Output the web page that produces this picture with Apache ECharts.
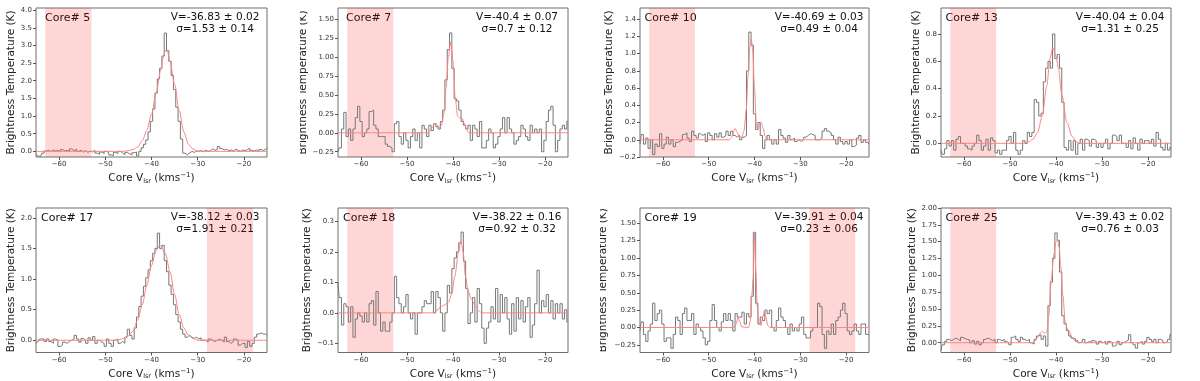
<!DOCTYPE html>
<html>
<head>
<meta charset="utf-8">
<script src="https://cdn.jsdelivr.net/npm/echarts@6/dist/echarts.min.js"></script>
<style>
  html, body { margin: 0; padding: 0; background: #fff; }
  #main { width: 1200px; height: 381px; }
</style>
</head>
<body>
<div id="main"></div>
<script>
/* channel grid of the spectra (km/s) */
var vStart = -65, vStep = 0.5;

/* brightness temperature per channel, one row = 5 km/s */
var t5 = [
  -0.08, -0.13, -0.15, -0.05, 0.01, 0.03, -0.01, 0.04, 0.01, 0.03,
  -0.02, 0.05, 0.01, 0.03, 0.0, 0.07, 0.02, 0.06, 0.0, 0.03,
  -0.02, 0.02, -0.03, 0.01, -0.02, 0.03, -0.05, -0.08, -0.02, -0.06,
  0.0, -0.04, -0.1, -0.12, -0.03, -0.06, 0.0, -0.05, -0.09, -0.03,
  -0.07, -0.1, -0.04, -0.02, -0.13, 0.0, 0.1, 0.2, 0.32, 0.55,
  0.85, 1.2, 1.65, 2.05, 2.35, 2.7, 3.35, 2.85, 2.55, 2.15,
  1.75, 1.25, 0.85, 0.35, -0.05, -0.1, -0.05, 0.0, -0.03, 0.01,
  0.0, 0.02, -0.01, 0.03, 0.0, 0.02, 0.07, 0.03, 0.05, 0.14,
  0.08, 0.04, 0.06, 0.02, 0.04, 0.01, 0.06, 0.03, 0.0, 0.04,
  0.02, 0.05, 0.09, 0.03, 0.01, 0.04, -0.01, 0.05, 0.03, 0.06,
  0.1
];
var t7 = [
  -0.25, -0.2, 0.05, 0.27, -0.05, 0.05, -0.1, 0.05, 0.2, 0.35,
  0.15, -0.05, 0.0, 0.05, 0.28, 0.3, 0.1, 0.05, -0.05, -0.05,
  -0.05, -0.15, -0.18, -0.2, -0.25, 0.12, 0.15, -0.05, -0.15, 0.0,
  -0.1, -0.2, -0.05, 0.05, -0.1, 0.0, -0.2, 0.1, 0.05, -0.05,
  0.1, 0.03, 0.12, 0.08, 0.05, 0.15, 0.3, 0.7, 1.1, 1.32,
  0.85, 0.45, 0.42, 0.3, 0.15, 0.1, 0.05, 0.1, -0.1, 0.1,
  0.05, -0.05, 0.15, -0.2, -0.2, -0.1, 0.05, 0.0, -0.2, -0.15,
  -0.05, 0.05, 0.2, 0.0, 0.2, 0.05, 0.0, -0.15, -0.1, -0.05,
  0.1, 0.05, -0.05, -0.1, 0.1, 0.0, 0.05, 0.0, 0.05, -0.25,
  -0.1, 0.15, 0.3, 0.35, 0.1, -0.25, -0.1, 0.05, 0.1, 0.05,
  0.15
];
var t10 = [
  -0.05, 0.06, -0.05, 0.02, -0.1, 0.0, -0.17, -0.05, -0.08, 0.07,
  -0.1, -0.05, 0.03, -0.05, 0.0, -0.08, -0.03, -0.02, 0.0, 0.06,
  0.08, 0.02, -0.02, 0.1, 0.05, 0.02, 0.07, 0.05, 0.07, -0.02,
  0.08, 0.05, 0.0, 0.07, 0.03, 0.08, 0.03, 0.05, 0.1, 0.05,
  0.1, 0.05, 0.03, 0.05, 0.0, 0.03, 0.05, 0.8, 1.25, 1.1,
  0.3, 0.12, 0.2, 0.05, -0.1, 0.0, 0.05, 0.0, -0.05, 0.0,
  -0.05, 0.12, 0.05, 0.02, -0.03, 0.05, 0.0, 0.02, -0.02, 0.0,
  -0.02, 0.0, 0.03, 0.05, 0.07, 0.06, 0.05, 0.0, 0.0, 0.02,
  0.1, 0.13, 0.1, 0.08, 0.05, 0.0, -0.05, 0.03, -0.02, -0.05,
  -0.02, -0.05, 0.0, -0.08, -0.06, 0.02, 0.05, -0.03, 0.0, -0.03,
  -0.05
];
var t13 = [
  -0.05, -0.08, -0.04, 0.02, -0.02, 0.02, -0.05, 0.03, 0.05, 0.0,
  0.0, -0.02, -0.04, -0.05, -0.02, 0.0, 0.06, 0.02, -0.05, -0.02,
  0.03, -0.05, 0.04, 0.02, -0.07, -0.05, -0.08, -0.05, -0.05, 0.02,
  0.05, 0.0, 0.08, -0.05, -0.08, -0.05, 0.02, 0.0, 0.08, 0.05,
  0.08, 0.32, 0.3, 0.2, 0.22, 0.45, 0.55, 0.6, 0.55, 0.8,
  0.62, 0.65, 0.55, 0.3, -0.03, -0.05, 0.02, -0.05, 0.02, -0.08,
  0.0, 0.03, -0.05, 0.03, 0.02, -0.02, 0.03, 0.02, -0.03, 0.0,
  -0.03, 0.0, 0.03, -0.04, 0.0, 0.06, 0.05, 0.02, 0.06, 0.0,
  0.0, -0.03, 0.02, -0.04, 0.04, 0.0, -0.05, 0.03, 0.0, 0.02,
  0.02, 0.0, 0.03, -0.02, 0.08, 0.03, -0.03, -0.05, 0.0, -0.05,
  -0.03
];
var t17 = [
  -0.05, -0.02, 0.02, 0.02, -0.02, 0.02, -0.02, -0.05, 0.02, 0.0,
  -0.1, -0.08, -0.03, -0.05, -0.02, 0.0, 0.02, 0.08, 0.02, -0.03,
  0.03, 0.0, -0.05, 0.04, 0.0, 0.06, -0.05, 0.0, -0.03, -0.05,
  -0.1, 0.02, -0.05, -0.1, 0.0, 0.02, -0.05, -0.02, -0.05, 0.05,
  0.18, 0.08, 0.02, 0.2, 0.38, 0.55, 0.72, 0.88, 1.02, 1.15,
  1.3, 1.42, 1.5, 1.75, 1.5, 1.55, 1.3, 1.12, 0.9, 0.75,
  0.58, 0.42, 0.3, 0.18, 0.1, 0.05, 0.08, 0.05, 0.03, 0.05,
  0.02, 0.04, 0.0, 0.0, -0.03, 0.02, 0.0, -0.02, 0.0, 0.02,
  0.0, -0.03, 0.05, -0.02, -0.05, -0.02, 0.02, 0.0, -0.08, -0.05,
  -0.05, -0.12, -0.02, -0.1, -0.05, 0.05, 0.1, 0.12, 0.1, 0.1,
  0.08
];
var t18 = [
  0.1, 0.05, -0.04, 0.03, 0.02, -0.03, 0.02, -0.08, -0.02, 0.0,
  -0.01, -0.03, 0.0, -0.03, 0.03, 0.04, -0.04, 0.07, 0.0, -0.06,
  -0.03, -0.06, -0.06, -0.03, 0.0, 0.12, 0.05, 0.03, 0.0, 0.02,
  0.06, 0.0, -0.02, 0.0, -0.07, 0.0, 0.0, 0.02, 0.04, 0.03,
  0.03, 0.07, 0.0, 0.07, 0.05, 0.0, -0.06, 0.0, 0.09, 0.065,
  0.145, 0.18, 0.2, 0.23, 0.265, 0.17, 0.08, -0.035, 0.0, 0.05,
  -0.03, 0.08, 0.03, -0.05, -0.1, -0.05, -0.03, 0.02, -0.02, 0.08,
  -0.03, 0.06, 0.0, 0.05, -0.02, -0.07, 0.03, -0.06, 0.05, -0.02,
  0.04, -0.03, 0.02, 0.05, -0.08, -0.04, 0.03, 0.14, 0.0, 0.04,
  0.02, 0.06, 0.0, 0.04, -0.02, 0.03, 0.0, 0.03, -0.02, 0.01,
  -0.03
];
var t19 = [
  -0.05, 0.08, -0.1, -0.2, -0.05, 0.05, 0.35, 0.1, 0.2, 0.25,
  0.05, -0.2, -0.15, -0.15, -0.3, -0.1, 0.15, 0.1, -0.1, 0.2,
  0.28, 0.1, 0.1, 0.2, -0.1, 0.05, 0.0, -0.05, -0.15, -0.25,
  -0.2, 0.1, 0.33, 0.1, 0.0, -0.05, 0.08, 0.2, 0.1, 0.2,
  0.1, -0.05, 0.2, 0.15, 0.15, 0.22, 0.05, 0.2, 0.15, 0.45,
  1.37, 0.35, 0.05, 0.15, 0.1, 0.25, 0.2, 0.25, 0.0, -0.05,
  0.1, 0.28, 0.15, 0.1, 0.0, -0.1, 0.05, -0.05, 0.0, -0.05,
  0.05, 0.15, -0.1, -0.15, -0.15, -0.05, 0.0, 0.0, 0.35, 0.3,
  -0.1, -0.3, -0.05, -0.1, 0.05, -0.1, 0.1, 0.15, 0.25, 0.35,
  0.2, -0.05, -0.1, -0.05, 0.05, -0.05, -0.1, 0.05, 0.05, -0.1,
  -0.1
];
var t25 = [
  -0.11, -0.03, 0.02, 0.05, 0.03, 0.05, 0.07, 0.05, 0.03, 0.08,
  0.06, 0.05, 0.04, 0.0, 0.03, -0.02, 0.02, -0.03, 0.0, 0.05,
  0.07, 0.05, 0.03, 0.05, 0.0, 0.05, 0.03, 0.05, 0.02, 0.0,
  -0.03, 0.08, 0.1, 0.05, 0.02, 0.08, 0.05, 0.03, 0.05, 0.0,
  -0.02, 0.05, 0.1, 0.12, 0.05, 0.1, -0.05, 0.55, 0.9, 1.25,
  1.63, 1.52, 1.05, 0.4, 0.28, 0.18, 0.1, 0.07, 0.06, 0.03,
  0.0, 0.02, 0.05, 0.0, 0.02, 0.0, 0.03, 0.02, -0.02, 0.02,
  0.0, 0.02, -0.02, 0.02, 0.0, -0.05, -0.03, 0.02, -0.03, 0.0,
  0.02, 0.04, 0.12, 0.0, -0.03, -0.08, 0.0, 0.02, -0.02, 0.02,
  0.08, 0.05, 0.02, 0.05, 0.0, 0.05, 0.03, 0.0, 0.02, 0.05,
  0.12
];

/* fitted profiles, [v, T] */
var f5 = [[-65, 0], [-46, 0], [-45, 0.02], [-44, 0.05], [-43, 0.12], [-42, 0.3], [-41, 0.6], [-40, 1.05],
  [-39, 1.65], [-38, 2.3], [-37.5, 2.65], [-37, 2.85], [-36.5, 2.8], [-36, 2.55], [-35, 1.9], [-34, 1.15],
  [-33, 0.55], [-32, 0.2], [-31, 0.06], [-30, 0.01], [-29, 0], [-15, 0]];
var f7 = [[-65, 0], [-45.5, 0], [-45, 0.02], [-44.5, 0.07], [-44, 0.12], [-43.5, 0.11], [-43, 0.07],
  [-42.5, 0.1], [-42, 0.25], [-41.5, 0.6], [-41, 1.0], [-40.5, 1.2], [-40, 0.95], [-39.5, 0.45],
  [-39, 0.22], [-38.5, 0.2], [-38, 0.19], [-37.5, 0.12], [-37, 0.04], [-36.5, 0], [-15, 0]];
var f10 = [[-65, 0], [-45.5, 0], [-45, 0.03], [-44.5, 0.1], [-44.2, 0.13], [-43.8, 0.09], [-43.3, 0.03],
  [-42.8, 0.03], [-42.3, 0.1], [-41.8, 0.35], [-41.4, 0.75], [-41, 1.08], [-40.7, 1.17], [-40.4, 1.05],
  [-40, 0.6], [-39.6, 0.15], [-39.2, 0.12], [-38.8, 0.19], [-38.5, 0.2], [-38.1, 0.13], [-37.7, 0.04],
  [-37.2, 0], [-15, 0]];
var f13 = [[-65, 0], [-47, 0], [-46, 0.01], [-45, 0.03], [-44, 0.08], [-43, 0.2], [-42, 0.42],
  [-41.3, 0.62], [-40.7, 0.7], [-40, 0.64], [-39.5, 0.55], [-38.7, 0.35], [-37.6, 0.15], [-36.5, 0.05],
  [-35.5, 0.01], [-35, 0], [-15, 0]];
var f17 = [[-65, 0], [-48, 0], [-47, 0.01], [-46, 0.03], [-45, 0.07], [-44, 0.15], [-43, 0.33], [-42, 0.58],
  [-41, 0.9], [-40, 1.22], [-39, 1.47], [-38.2, 1.55], [-37, 1.42], [-36, 1.12], [-35, 0.75], [-34, 0.42],
  [-33, 0.2], [-32, 0.08], [-31, 0.03], [-30, 0], [-15, 0]];
var f18 = [[-65, 0], [-44, 0], [-43, 0.015], [-42, 0.025], [-41, 0.035], [-40.3, 0.06], [-39.6, 0.12],
  [-38.8, 0.2], [-38.3, 0.235], [-37.8, 0.2], [-37.3, 0.12], [-36.7, 0.07], [-36, 0.045], [-35.2, 0.025],
  [-34.5, 0.008], [-33.8, 0], [-15, 0]];
var f19 = [[-65, 0], [-44.5, 0], [-44, 0.05], [-43.6, 0.15], [-43.2, 0.08], [-42.8, 0.01], [-41.3, 0],
  [-40.9, 0.1], [-40.6, 0.45], [-40.3, 0.7], [-40, 1.35], [-39.7, 0.8], [-39.4, 0.3], [-39, 0.05],
  [-38.6, 0.03], [-38.2, 0.15], [-37.8, 0.25], [-37.5, 0.15], [-37.1, 0.03], [-36.7, 0], [-15, 0]];
var f25 = [[-65, 0], [-45, 0], [-44.5, 0.03], [-44, 0.08], [-43.5, 0.14], [-43, 0.17], [-42.5, 0.14],
  [-42, 0.16], [-41.6, 0.4], [-41, 0.95], [-40.5, 1.3], [-40, 1.5], [-39.7, 1.52], [-39.3, 1.42],
  [-39, 1.15], [-38.5, 0.7], [-38, 0.32], [-37.6, 0.22], [-37.2, 0.18], [-36.5, 0.08], [-35.8, 0.02],
  [-35, 0], [-15, 0]];

var spectra = [t5, t7, t10, t13, t17, t18, t19, t25];
var fits = [f5, f7, f10, f13, f17, f18, f19, f25];
var coreNames = ['5', '7', '10', '13', '17', '18', '19', '25'];
var vlsrText = ['-36.83 ± 0.02', '-40.4 ± 0.07', '-40.69 ± 0.03', '-40.04 ± 0.04',
  '-38.12 ± 0.03', '-38.22 ± 0.16', '-39.91 ± 0.04', '-39.43 ± 0.02'];
var sigmaText = ['1.53 ± 0.14', '0.7 ± 0.12', '0.49 ± 0.04', '1.31 ± 0.25',
  '1.91 ± 0.21', '0.92 ± 0.32', '0.23 ± 0.06', '0.76 ± 0.03'];
var bands = [[-63, -53], [-63, -53], [-63, -53], [-63, -53],
  [-28, -18], [-63, -53], [-28, -18], [-63, -53]];
var yRanges = [[-0.16, 4.06], [-0.32, 1.65], [-0.2, 1.53], [-0.1, 0.99],
  [-0.2, 2.16], [-0.13, 0.344], [-0.36, 1.72], [-0.145, 2.0]];
var yTicks = [
  [0, 0.5, 1, 1.5, 2, 2.5, 3, 3.5, 4],
  [-0.25, 0, 0.25, 0.5, 0.75, 1, 1.25, 1.5],
  [-0.2, 0, 0.2, 0.4, 0.6, 0.8, 1, 1.2, 1.4],
  [0, 0.2, 0.4, 0.6, 0.8],
  [0, 0.5, 1, 1.5, 2],
  [-0.1, 0, 0.1, 0.2, 0.3],
  [-0.25, 0, 0.25, 0.5, 0.75, 1, 1.25, 1.5],
  [0, 0.25, 0.5, 0.75, 1, 1.25, 1.5, 1.75, 2]
];
var yDecimals = [1, 2, 1, 1, 1, 1, 2, 2];
var xTicks = [-60, -50, -40, -30, -20];

/* layout */
var gridLeft = [36, 338, 640, 941];
var gridWidth = [231, 230, 229, 230];
var rowTop = [8, 208];
var rowHeight = [149, 148];
var yNameGap = [18.5, 29, 24, 18, 18.5, 25, 31, 22.5];
var coreDx = [9, 8, 4.5, 4.5, 5, 5, 4.5, 4.5];
var FONT = '"DejaVu Sans", sans-serif';

function fmt(d) {
  return function (v) { return v.toFixed(d).replace('-', '\u2212'); };
}

var vel = t5.map(function (_, i) { return vStart + i * vStep; });

// pinXAxis: keep the x ticks on the bottom edge instead of at T = 0
function buildOption(pinXAxis) {
  var grids = [], xAxes = [], yAxes = [], series = [], graphics = [];
  for (var i = 0; i < 8; i++) {
    var row = i < 4 ? 0 : 1, col = i % 4;
    var left = gridLeft[col], top = rowTop[row];
    grids.push({
      left: left, top: top, width: gridWidth[col], height: rowHeight[row],
      show: true, borderColor: '#6e6e6e', borderWidth: 1
    });
    var xLine = pinXAxis ? { show: false, onZero: false } : { show: false };
    xAxes.push({
      type: 'value', gridIndex: i, min: -65, max: -15,
      axisLine: xLine, splitLine: { show: false },
      axisTick: { customValues: xTicks, length: 3, lineStyle: { color: '#555' } },
      axisLabel: { customValues: xTicks, formatter: fmt(0), fontSize: 7, color: '#333', margin: 4, fontFamily: FONT },
      name: 'Core V{sub|lsr} (kms{sup|\u22121})', nameLocation: 'middle', nameGap: 15,
      nameTextStyle: {
        fontSize: 10.5, color: '#222', fontFamily: FONT,
        rich: {
          sub: { fontSize: 6.5, padding: [5, 0, 0, 0] },
          sup: { fontSize: 7, padding: [0, 0, 6, 0] }
        }
      }
    });
    yAxes.push({
      type: 'value', gridIndex: i, min: yRanges[i][0], max: yRanges[i][1],
      axisLine: { show: false }, splitLine: { show: false },
      axisTick: { customValues: yTicks[i], length: 3, lineStyle: { color: '#555' } },
      axisLabel: { customValues: yTicks[i], formatter: fmt(yDecimals[i]), fontSize: 7, color: '#333', margin: 4, fontFamily: FONT },
      name: 'Brightness Temperature (K)', nameLocation: 'middle', nameGap: yNameGap[i],
      nameTextStyle: { fontSize: 10.5, color: '#222', fontFamily: FONT }
    });
    series.push({
      type: 'line', xAxisIndex: i, yAxisIndex: i, step: 'middle', symbol: 'none', z: 2,
      lineStyle: { color: '#777', width: 1 },
      data: spectra[i].map(function (t, k) { return [vel[k], t]; }),
      markArea: {
        silent: true, itemStyle: { color: 'rgba(255,0,0,0.16)' },
        data: [[{ xAxis: bands[i][0] }, { xAxis: bands[i][1] }]]
      }
    });
    series.push({
      type: 'line', xAxisIndex: i, yAxisIndex: i, symbol: 'none', z: 3,
      smooth: 0.3, smoothMonotone: 'x',
      lineStyle: { color: '#ff8282', width: 1 },
      data: fits[i]
    });
    graphics.push({
      type: 'text', x: left + coreDx[i], y: top + 10.5,
      style: { text: 'Core# ' + coreNames[i], font: '11px ' + FONT, fill: '#111', align: 'left', verticalAlign: 'middle' }
    });
    graphics.push({
      type: 'text', x: left + 179, y: top + 9,
      style: { text: 'V=' + vlsrText[i], font: '10.5px ' + FONT, fill: '#111', align: 'center', verticalAlign: 'middle' }
    });
    graphics.push({
      type: 'text', x: left + 179, y: top + 21.5,
      style: { text: '{i|\u03c3}=' + sigmaText[i], font: '10.5px ' + FONT, fill: '#111', align: 'center', verticalAlign: 'middle',
        rich: { i: { fontStyle: 'italic' } } }
    });
  }
  /* the source image crops the y label of two panels at the tile edge */
  graphics.push({ type: 'rect', z: 100, shape: { x: 285, y: 0, width: 15, height: 190 }, style: { fill: '#fff' } });
  graphics.push({ type: 'rect', z: 100, shape: { x: 585, y: 195, width: 15, height: 186 }, style: { fill: '#fff' } });
  return {
    animation: false,
    grid: grids, xAxis: xAxes, yAxis: yAxes, series: series,
    graphic: { elements: graphics }
  };
}

var el = document.getElementById('main');
var tries = [true, false];
for (var k = 0; k < tries.length; k++) {
  try {
    var chart = echarts.init(el);
    chart.setOption(buildOption(tries[k]));
    break;
  } catch (e) {
    try { echarts.dispose(el); } catch (e2) {}
  }
}
</script>
</body>
</html>
